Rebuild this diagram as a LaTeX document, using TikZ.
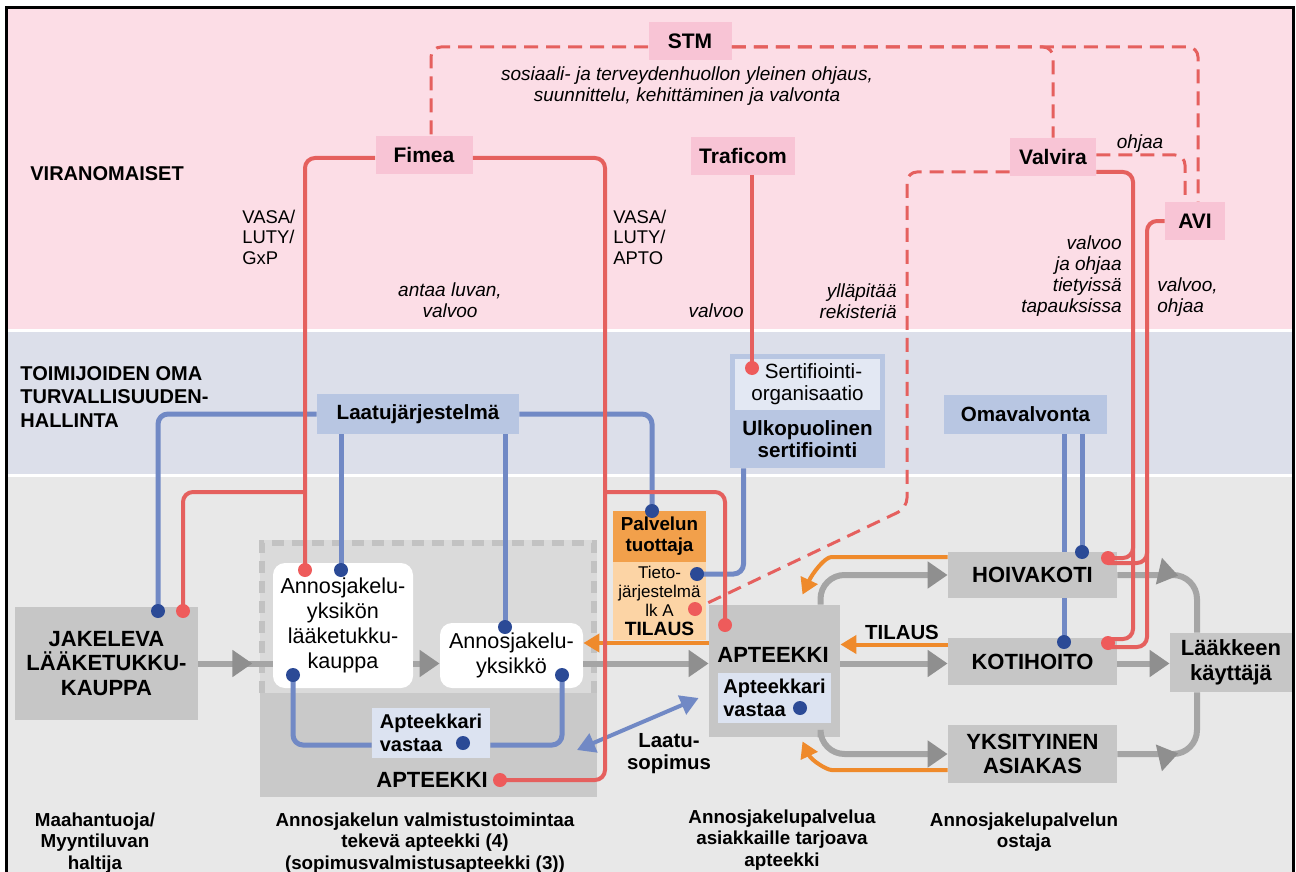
\documentclass[tikz,border=0pt]{standalone}
\usepackage{fontspec}
\setmainfont{Liberation Sans}
\usetikzlibrary{arrows.meta,decorations.markings}

\definecolor{pinkbg}{HTML}{FCDDE6}
\definecolor{bluebg}{HTML}{DCDFEA}
\definecolor{greybg}{HTML}{E8E8E8}
\definecolor{authpink}{HTML}{F8C4D5}
\definecolor{boxgrey}{HTML}{C6C6C6}
\definecolor{regiondark}{HTML}{C9C9C9}
\definecolor{regionlight}{HTML}{DADADA}
\definecolor{dashgrey}{HTML}{C2C2C2}
\definecolor{ctrlred}{HTML}{E5605E}
\definecolor{dotred}{HTML}{EE5B5B}
\definecolor{qualblue}{HTML}{7189C5}
\definecolor{dotblue}{HTML}{2B4A96}
\definecolor{qualbox}{HTML}{B8C6E2}
\definecolor{sertin}{HTML}{E3E8F3}
\definecolor{vastbox}{HTML}{DCE3F1}
\definecolor{ordorange}{HTML}{EF8A2B}
\definecolor{palvorange}{HTML}{F2A04B}
\definecolor{tietoorange}{HTML}{FCD4A5}
\definecolor{flowgrey}{HTML}{A5A5A5}
\definecolor{flowhead}{HTML}{8F8F8F}

\tikzset{
  band/.style={font=\bfseries\fontsize{10}{11.75}\selectfont, inner sep=0pt},
  auth/.style={fill=authpink, font=\bfseries\fontsize{10.5}{12}\selectfont, minimum height=19pt, inner sep=0pt},
  note/.style={font=\itshape\fontsize{9.5}{10.4}\selectfont, inner sep=0pt},
  plain/.style={font=\fontsize{9.2}{10.25}\selectfont, inner sep=0pt},
  sysbox/.style={fill=qualbox, font=\bfseries\fontsize{10.3}{11}\selectfont, inner sep=0pt, align=center},
  role/.style={fill=boxgrey, font=\bfseries\fontsize{11}{12.2}\selectfont, inner sep=0pt, align=center},
  title/.style={font=\bfseries\fontsize{11}{12.2}\selectfont, inner sep=0pt},
  label10/.style={font=\bfseries\fontsize{10.2}{11}\selectfont, inner sep=0pt, align=center},
  unit/.style={fill=white, rounded corners=6pt, font=\fontsize{10.8}{12.6}\selectfont, inner sep=0pt, align=center},
  vast/.style={fill=vastbox, font=\bfseries\fontsize{10}{11.8}\selectfont, inner sep=0pt, align=left},
  caption/.style={font=\bfseries\fontsize{9.4}{10.75}\selectfont, inner sep=0pt, align=center},
  ctrl/.style={draw=ctrlred, line width=2pt, rounded corners=5pt},
  guide/.style={draw=ctrlred, line width=1.5pt, dash pattern=on 7pt off 4pt, rounded corners=5pt},
  qual/.style={draw=qualblue, line width=2.5pt, rounded corners=5pt},
  qualarrow/.style={draw=qualblue, line width=2pt, {Triangle[length=9pt,width=10pt]}-{Triangle[length=9pt,width=10pt]}},
  flowline/.style={draw=flowgrey, line width=3pt, rounded corners=12pt},
  flow/.style={flowline, -{Triangle[length=10pt,width=13pt,color=flowhead]}},
  midtip/.style={postaction={decorate}, decoration={markings, mark=at position #1 with {\arrow{Triangle[length=10pt,width=13pt,color=flowhead]}}}},
  order/.style={draw=ordorange, line width=2pt, rounded corners=8pt, -{Triangle[length=8pt,width=9pt]}}
}

\begin{document}
\begin{tikzpicture}[x=0.5pt,y=-0.5pt]
 \useasboundingbox (0,0) rectangle (1296,872);

 %bands
 \fill[white] (0,0) rectangle (1296,872);
 \fill[pinkbg] (7,9) rectangle (1292,329);
 \fill[bluebg] (7,332) rectangle (1292,474);
 \fill[greybg] (7,477) rectangle (1292,872);

 %band titles
 \node[band, anchor=west] (viran) at (30,174) {VIRANOMAISET};
 \node[band, anchor=west, align=left] (toimij) at (20,397) {TOIMIJOIDEN OMA\\TURVALLISUUDEN-\\HALLINTA};

 %authorities
 \node[auth, minimum width=41.5pt] (stm) at (690,41) {STM};
 \node[auth, minimum width=48.5pt] (fimea) at (424,155) {Fimea};
 \node[auth, minimum width=52pt] (traficom) at (743,156) {Traficom};
 \node[auth, minimum width=43pt] (valvira) at (1053,157) {Valvira};
 \node[auth, minimum width=30pt] (avi) at (1195,221) {AVI};

 %texts along the lines
 \node[note, align=center] (stm-t) at (687,86) {sosiaali- ja terveydenhuollon yleinen ohjaus,\\suunnittelu, kehittäminen ja valvonta};
 \node[plain, align=left, anchor=west] (vasa1) at (242,237) {VASA/\\LUTY/\\GxP};
 \node[plain, align=left, anchor=west] (vasa2) at (613,237) {VASA/\\LUTY/\\APTO};
 \node[note, align=center] (luvan) at (450,300) {antaa luvan,\\valvoo};
 \node[note, anchor=east] (traf-t) at (744,311) {valvoo};
 \node[note, align=right, anchor=east] (rek) at (897,301) {ylläpitää\\rekisteriä};
 \node[note] (ohjaa) at (1140,144) {ohjaa};
 \node[note, align=right, anchor=east] (valv-t) at (1122,276) {valvoo\\ja ohjaa\\tietyissä\\tapauksissa};
 \node[note, align=left, anchor=west] (avi-t) at (1157,297) {valvoo,\\ohjaa};

 %own quality systems
 \node[sysbox, minimum width=101pt, minimum height=20pt] (laatu) at (418,414) {Laatujärjestelmä};
 \node[sysbox, minimum width=81.5pt, minimum height=19.5pt] (omav) at (1025.5,414.5) {Omavalvonta};
 \node[sysbox, minimum width=77.5pt, minimum height=57pt] (sert) at (807.5,411) {};
 \node[fill=sertin, minimum width=72.5pt, minimum height=25.5pt, inner sep=0pt, align=center,
       font=\fontsize{10.3}{11}\selectfont] (sert-in) at (807.5,384.5) {\hspace{6pt}Sertifiointi-\\organisaatio};
 \node[sysbox, fill=none] (ulko) at (807.5,439) {Ulkopuolinen\\sertifiointi};

 %dispensing pharmacy
 \node[fill=regiondark, minimum width=168.5pt, minimum height=128.5pt, inner sep=0pt] (ap1) at (428.5,668.5) {};
 \fill[regionlight] (260,540) rectangle (597,693);
 \draw[dashgrey, line width=3pt, dash pattern=on 6pt off 4pt] (262,693) -- (262,543) -- (594,543) -- (594,693);
 \node[unit, minimum width=70pt, minimum height=62.5pt] (ayl) at (343,625.5) {Annosjakelu-\\yksikön\\lääketukku-\\kauppa};
 \node[unit, minimum width=71.5pt, minimum height=32.5pt] (ay) at (511.5,655.5) {Annosjakelu-\\yksikkö};
 \node[vast, minimum width=59pt, minimum height=25pt] (av1) at (431,733) {Apteekkari\\vastaa};
 \node[title] (ap1-t) at (432,780) {APTEEKKI};

 %wholesaler and service producer
 \node[role, minimum width=91.5pt, minimum height=56.5pt] (jak) at (106.5,663.5) {JAKELEVA\\LÄÄKETUKKU-\\KAUPPA};
 \node[fill=palvorange, minimum width=46.5pt, minimum height=25.5pt, inner sep=0pt, align=center,
       font=\bfseries\fontsize{9.4}{10.5}\selectfont] (palv) at (659.5,536.5) {Palvelun\\tuottaja};
 \node[fill=tietoorange, minimum width=46.5pt, minimum height=39pt, inner sep=0pt, align=center,
       font=\fontsize{8.5}{9.5}\selectfont] (tieto) at (659.5,601) {Tieto-\\järjestelmä\\lk A\\{\bfseries\fontsize{9.6}{9.5}\selectfont TILAUS}};

 %service pharmacy and buyers
 \node[role, minimum width=65.5pt, minimum height=66pt] (ap2) at (774.5,671) {};
 \node[title] (ap2-t) at (773,655) {APTEEKKI};
 \node[vast, minimum width=56.5pt, minimum height=25pt] (av2) at (774.5,698) {Apteekkari\\vastaa};
 \node[role, minimum width=84.5pt, minimum height=23.5pt] (koti) at (1032.5,661.5) {KOTIHOITO};
 \node[role, minimum width=84.5pt, minimum height=29pt] (yks) at (1032.5,754) {YKSITYINEN\\ASIAKAS};
 \node[role, minimum width=61pt, minimum height=29.5pt] (lk) at (1231,662.5) {Lääkkeen\\käyttäjä};
 \node[label10] (tilaus) at (902,632) {TILAUS};
 \node[label10] (laatusop) at (669,754) {Laatu-\\sopimus};

 %captions
 \node[caption] (cap1) at (95,843) {Maahantuoja/\\Myyntiluvan\\haltija};
 \node[caption] (cap2) at (425,843) {Annosjakelun valmistustoimintaa\\tekevä apteekki (4)\\(sopimusvalmistusapteekki (3))};
 \node[caption] (cap3) at (782,840) {Annosjakelupalvelua\\asiakkaille tarjoava\\apteekki};
 \node[caption] (cap4) at (1024,832) {Annosjakelupalvelun\\ostaja};

 %points of the dots
 \coordinate (jak-b) at (158,611);
 \coordinate (jak-r) at (183,611);
 \coordinate (ayl-r) at (305,570);
 \coordinate (ayl-b) at (341,570);
 \coordinate (ayl-b2) at (293,675);
 \coordinate (ay-b) at (505,627);
 \coordinate (ay-b2) at (562,675);
 \coordinate (av1-b) at (463,743);
 \coordinate (ap1-r) at (500,780);
 \coordinate (palv-b) at (652,511);
 \coordinate (tieto-b) at (697,574);
 \coordinate (tieto-r) at (695,609);
 \coordinate (ap2-r) at (725,625);
 \coordinate (av2-b) at (800,708);
 \coordinate (sert-r) at (752,368);
 \coordinate (hoiva-b) at (1082,552);
 \coordinate (hoiva-r) at (1108,558);
 \coordinate (koti-b) at (1064,642);
 \coordinate (koti-r) at (1108,643);

 %junctions
 \coordinate (fl) at (305,492);
 \coordinate (fr) at (605,492);
 \coordinate (vj) at (1133,520);
 \coordinate (aj) at (1147,520);
 \coordinate (vdash) at (907,508);
 \coordinate (laatu-l) at (577,750);
 \coordinate (tilaus1) at ([yshift=14pt]ap2.west);
 \coordinate (tilaus2) at ([yshift=8.5pt]koti.west);

 %blue line behind HOIVAKOTI
 \draw[qual] (omav.south -| koti-b) -- (koti-b);
 \node[role, minimum width=84.5pt, minimum height=23pt] (hoiva) at (1032.5,575) {HOIVAKOTI};

 %flow of medicines
 \draw[flowline, midtip=27pt] (jak.east) -- (jak.east -| ayl.west);
 \draw[flow] (jak.east -| ayl.east) -- (jak.east -| ay.west);
 \draw[flow] (jak.east -| ay.east) -- (jak.east -| ap2.west);
 \draw[flow] (jak.east -| ap2.east) -- (jak.east -| koti.west);
 \draw[flow] (jak.east -| koti.east) -- (jak.east -| lk.west);
 \draw[flow] ([xshift=23pt]ap2.north) |- (hoiva.west);
 \draw[flow] ([xshift=23pt]ap2.south) |- (yks.west);
 \draw[flowline, midtip=30.5pt] (hoiva.east) -| ([xshift=-17pt]lk.north);
 \draw[flowline, midtip=30.5pt] (yks.east) -| ([xshift=-17pt]lk.south);

 %orders
 \draw[order] (tilaus1) -- (tilaus1 -| ay.east);
 \draw[order] (tilaus2) -- (tilaus2 -| ap2.east);
 \draw[order] ([yshift=9pt]hoiva.west) -- ++(-100,0) to[out=180,in=65] ([xshift=14pt,yshift=5pt]ap2.north);
 \draw[order] ([yshift=-8pt]yks.west) -- ++(-100,0) to[out=180,in=-65] ([xshift=14pt,yshift=-2pt]ap2.south);

 %quality lines
 \draw[qual] (laatu.west) -| (jak-b);
 \draw[qual] (laatu.east) -| (palv-b);
 \draw[qual] (laatu.south -| ayl-b) -- (ayl-b);
 \draw[qual] (laatu.south -| ay-b) -- (ay-b);
 \draw[qual] ([xshift=-32pt]sert.south) |- (tieto-b);
 \draw[qual] (omav.south -| hoiva-b) -- (hoiva-b);
 \draw[qual] (hoiva.south -| koti-b) -- (koti-b);
 \draw[qual] (ayl-b2) |- ([yshift=-6pt]av1.west);
 \draw[qual] (ay-b2) |- ([yshift=-6pt]av1.east);
 \draw[qualarrow] (laatu-l) -- ([xshift=-5pt,yshift=-13.5pt]ap2.west);

 %control lines
 \draw[ctrl] ([yshift=-1.5pt]fimea.west) -| (ayl-r);
 \draw[ctrl] (fl) -| (jak-r);
 \draw[ctrl] ([yshift=-1.5pt]fimea.east) -| (fr |- ap1-r) -- (ap1-r);
 \draw[ctrl] (fr) -| (ap2-r);
 \draw[ctrl] (sert-r |- traficom.south) -- (sert-r);
 \draw[ctrl] ([yshift=-7.5pt]valvira.east) -| (vj) |- ([yshift=2pt]koti-r);
 \draw[ctrl] (vj) |- (hoiva-r);
 \draw[ctrl] (avi.west) -| (aj) |- ([yshift=-2pt]koti-r);
 \draw[ctrl] (aj) |- ([yshift=-2.5pt]hoiva-r);

 %guidance lines
 \draw[guide] ([yshift=-3pt]stm.west) -| ([xshift=3.5pt]fimea.north);
 \draw[guide] ([yshift=-3pt]stm.east) -| ([xshift=1.5pt]avi.north);
 \draw[guide] ([yshift=-3pt]stm.east) -| (valvira.north);
 \draw[guide] ([yshift=1pt]valvira.east) -| ([xshift=-5pt]avi.north);
 \draw[guide] ([yshift=-7.5pt]valvira.west) -| (vdash) -- (tieto-r);

 %draw the dots
 \fill[dotblue] (jak-b) circle (3.5pt);
 \fill[dotred] (jak-r) circle (3.5pt);
 \fill[dotred] (ayl-r) circle (3.5pt);
 \fill[dotblue] (ayl-b) circle (3.5pt);
 \fill[dotblue] (ayl-b2) circle (3.5pt);
 \fill[dotblue] (ay-b) circle (3.5pt);
 \fill[dotblue] (ay-b2) circle (3.5pt);
 \fill[dotblue] (av1-b) circle (3.5pt);
 \fill[dotred] (ap1-r) circle (3.5pt);
 \fill[dotblue] (palv-b) circle (3.5pt);
 \fill[dotblue] (tieto-b) circle (3.5pt);
 \fill[dotred] (tieto-r) circle (3.5pt);
 \fill[dotred] (ap2-r) circle (3.5pt);
 \fill[dotblue] (av2-b) circle (3.5pt);
 \fill[dotred] (sert-r) circle (3.5pt);
 \fill[dotblue] (hoiva-b) circle (3.5pt);
 \fill[dotred] (hoiva-r) circle (3.5pt);
 \fill[dotblue] (koti-b) circle (3.5pt);
 \fill[dotred] (koti-r) circle (3.5pt);

 %frame
 \draw[line width=1.5pt] (6,8) rectangle (1293,890);
\end{tikzpicture}
\end{document}
